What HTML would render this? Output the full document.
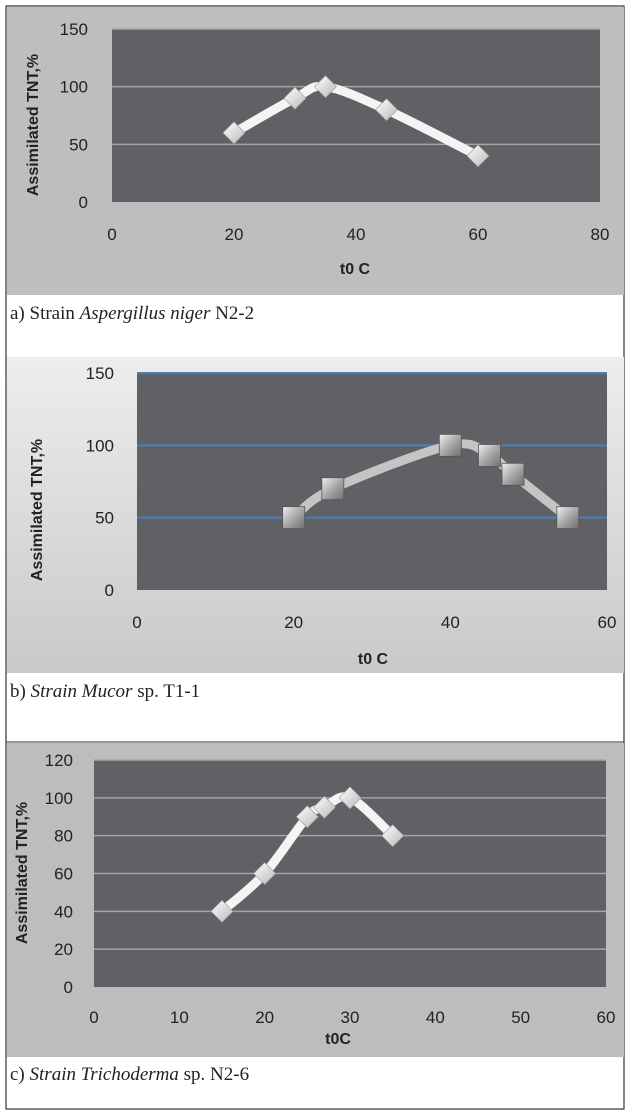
<!DOCTYPE html>
<html><head><meta charset="utf-8"><style>
body{margin:0;background:#fff;width:630px;height:1114px;overflow:hidden}
svg{display:block}
</style></head><body>
<svg id="fig" width="630" height="1114" viewBox="0 0 630 1114" xmlns="http://www.w3.org/2000/svg">
<defs>
<linearGradient id="gb" x1="0" y1="0" x2="0" y2="1"><stop offset="0" stop-color="#ededed"/><stop offset="1" stop-color="#c9c9c9"/></linearGradient>
<linearGradient id="mk" x1="0" y1="0" x2="1" y2="1"><stop offset="0" stop-color="#ffffff"/><stop offset="1" stop-color="#b8b8b8"/></linearGradient>
<linearGradient id="sq" x1="0" y1="0" x2="1" y2="1"><stop offset="0" stop-color="#f0f0f0"/><stop offset="0.5" stop-color="#a8a8a8"/><stop offset="1" stop-color="#6e6e6e"/></linearGradient>
</defs>
<rect x="6" y="6" width="618" height="1103" fill="none" stroke="#333" stroke-width="1.2"/>
<rect x="7" y="7" width="617" height="288" fill="#bebebe"/>
<rect x="7" y="357" width="617" height="316" fill="url(#gb)"/>
<line x1="6" y1="742" x2="624" y2="742" stroke="#333" stroke-width="1"/>
<rect x="7" y="743" width="617" height="314" fill="#bdbdbd"/>
<g id="charts"></g>
<text x="10" y="319" font-family="Liberation Serif,serif" font-size="19" fill="#222">a) Strain <tspan font-style="italic">Aspergillus niger</tspan> N2-2</text>
<text x="10" y="697" font-family="Liberation Serif,serif" font-size="19" fill="#222">b) <tspan font-style="italic">Strain Mucor</tspan> sp. T1-1</text>
<text x="10" y="1080" font-family="Liberation Serif,serif" font-size="19" fill="#222">c) <tspan font-style="italic">Strain Trichoderma</tspan> sp. N2-6</text>
</svg>
<script>
const aX=[20,30,35,45,60];
const aY=[60,90,100,80,40];
const aYTicks=[0,50,100,150];
const aXTicks=[0,20,40,60,80];
const bX=[20,25,40,45,48,55];
const bY=[50,70,100,93,80,50];
const bYTicks=[0,50,100,150];
const bXTicks=[0,20,40,60];
const cX=[15,20,25,27,30,35];
const cY=[40,60,90,95,100,80];
const cYTicks=[0,20,40,60,80,100,120];
const cXTicks=[0,10,20,30,40,50,60];

const NS='http://www.w3.org/2000/svg';
const root=document.getElementById('charts');
function mk(tag,at,parent){const e=document.createElementNS(NS,tag);for(const k in at)e.setAttribute(k,at[k]);(parent||root).appendChild(e);return e;}

function chart(o){
  const g=mk('g',{});
  
  
  const xs=v=>o.x0+(v-o.xmin)/(o.xmax-o.xmin)*(o.x1-o.x0);
  const ys=v=>o.y0-(v-o.ymin)/(o.ymax-o.ymin)*(o.y0-o.y1);
  const pa=mk('rect',{x:o.x0,y:o.y1,width:o.x1-o.x0,height:o.y0-o.y1,fill:'#606165'},g);
  
  
  o.yt.forEach(t=>{
    if(t!==o.ymin){const l=mk('line',{x1:o.x0,x2:o.x1,y1:ys(t),y2:ys(t),stroke:o.grid,'stroke-width':o.gw},g);
      
      }
    const tx=mk('text',{x:o.ylx,y:ys(t)+6,'text-anchor':'end','font-family':'Liberation Sans,sans-serif','font-size':17,fill:'#222'},g);
    tx.textContent=t;
    
    
  });
  o.xt.forEach(t=>{
    const tx=mk('text',{x:xs(t),y:o.xly,'text-anchor':'middle','font-family':'Liberation Sans,sans-serif','font-size':17,fill:'#222'},g);
    tx.textContent=t;
    
    
  });
  const xt=mk('text',{x:o.xtx,y:o.xty,'text-anchor':'middle','font-family':'Liberation Sans,sans-serif','font-size':16,'font-weight':'bold',fill:'#222'},g);
  xt.textContent=o.xtitle;
  
  
  const yt=mk('text',{x:0,y:0,transform:`translate(${o.ytx},${o.yty}) rotate(-90)`,'text-anchor':'middle','font-family':'Liberation Sans,sans-serif','font-size':16,'font-weight':'bold',fill:'#222'},g);
  yt.textContent='Assimilated TNT,%';
  
  
  const P=o.X.map((v,i)=>[xs(v),ys(o.Y[i])]);
  let d=`M${P[0][0]},${P[0][1]}`;
  for(let i=0;i<P.length-1;i++){
    const p0=P[i-1]||P[i],p1=P[i],p2=P[i+1],p3=P[i+2]||P[i+1];
    const c1=[p1[0]+(p2[0]-p0[0])/6,p1[1]+(p2[1]-p0[1])/6];
    const c2=[p2[0]-(p3[0]-p1[0])/6,p2[1]-(p3[1]-p1[1])/6];
    d+=` C${c1[0]},${c1[1]} ${c2[0]},${c2[1]} ${p2[0]},${p2[1]}`;
  }
  const ln=mk('path',{d:d,fill:'none',stroke:o.lc,'stroke-width':9,'stroke-linecap':'round'},g);
  
  
  P.forEach(p=>{
    let m;
    if(o.sq){m=mk('rect',{x:p[0]-11,y:p[1]-11,width:22,height:22,fill:'url(#sq)',stroke:'#555','stroke-width':0.8},g);}
    else{m=mk('polygon',{points:`${p[0]},${p[1]-11} ${p[0]+11},${p[1]} ${p[0]},${p[1]+11} ${p[0]-11},${p[1]}`,fill:'url(#mk)',stroke:'#999','stroke-width':0.6},g);}
    
    
  });
}
chart({name:'chart-a',X:aX,Y:aY,yt:aYTicks,xt:aXTicks,xmin:0,xmax:80,ymin:0,ymax:150,x0:112,x1:600,y0:202,y1:29,grid:'#a5a5a5',gw:1.5,ylx:88,xly:240,xtitle:'t0 C',xtx:355,xty:274,ytx:38,yty:125,lc:'#f4f4f4',sq:false});
chart({name:'chart-b',X:bX,Y:bY,yt:bYTicks,xt:bXTicks,xmin:0,xmax:60,ymin:0,ymax:150,x0:137,x1:607,y0:590,y1:373,grid:'#4a7fc4',gw:2,ylx:114,xly:628,xtitle:'t0 C',xtx:373,xty:664,ytx:42,yty:510,lc:'#c4c4c4',sq:true});
chart({name:'chart-c',X:cX,Y:cY,yt:cYTicks,xt:cXTicks,xmin:0,xmax:60,ymin:0,ymax:120,x0:94,x1:606,y0:987,y1:760,grid:'#a5a5a5',gw:1.5,ylx:73,xly:1023,xtitle:'t0C',xtx:338,xty:1044,ytx:27,yty:873,lc:'#f4f4f4',sq:false});
</script>
</body></html>
